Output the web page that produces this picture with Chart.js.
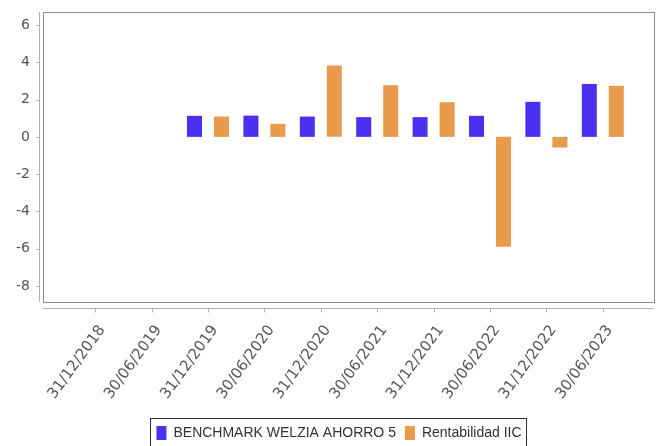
<!DOCTYPE html>
<html>
<head>
<meta charset="utf-8">
<script src="https://cdn.jsdelivr.net/npm/chart.js@4"></script>
<style>
  html, body { margin: 0; padding: 0; background: #fff; overflow: hidden; }
  #wrap { width: 658px; height: 450px; }
</style>
</head>
<body>
<div id="wrap"><canvas id="chart"></canvas></div>
<script>
const labels = ['31/12/2018', '30/06/2019', '31/12/2019', '30/06/2020', '31/12/2020',
  '30/06/2021', '31/12/2021', '30/06/2022', '31/12/2022', '30/06/2023'];
const benchmark = [null, null, 1.13, 1.14, 1.09, 1.06, 1.06, 1.13, 1.88, 2.84];
const rentabilidad = [null, null, 1.09, 0.70, 3.83, 2.77, 1.86, -5.90, -0.57, 2.74];
const yTicks = [-8, -6, -4, -2, 0, 2, 4, 6];

// plot frame, offset axis lines, tick marks and legend border (JFreeChart look)
const frame = {
  id: 'frame',
  afterDraw(chart) {
    const ctx = chart.ctx;
    const a = chart.chartArea;
    const x = chart.scales.x, y = chart.scales.y;
    const boxL = a.left - 24, boxR = a.right + 23;
    ctx.save();
    ctx.lineWidth = 1;
    ctx.strokeStyle = '#8c8c8c';
    ctx.strokeRect(boxL + 0.5, a.top + 0.5, boxR - boxL, a.bottom - a.top);

    ctx.strokeStyle = '#b0b0b0';
    ctx.beginPath();
    ctx.moveTo(boxL - 3.5, a.top);
    ctx.lineTo(boxL - 3.5, a.bottom);
    yTicks.forEach(v => {
      const py = Math.round(y.getPixelForValue(v)) + 0.5;
      ctx.moveTo(boxL - 7, py);
      ctx.lineTo(boxL - 3, py);
    });
    const ay = a.bottom + 6.5;
    ctx.moveTo(boxL, ay);
    ctx.lineTo(boxR, ay);
    labels.forEach((l, i) => {
      const px = Math.round(x.getPixelForValue(i)) + 0.5;
      ctx.moveTo(px, ay);
      ctx.lineTo(px, ay + 4);
    });
    ctx.stroke();

    const hb = chart.legend.legendHitBoxes;
    if (hb && hb.length) {
      const l = Math.min(...hb.map(h => h.left)) - 6;
      const r = Math.max(...hb.map(h => h.left + h.width)) + 5;
      const t = hb[0].top - 8;
      ctx.strokeStyle = '#333';
      ctx.strokeRect(Math.round(l) + 0.5, Math.round(t) + 0.5, Math.round(r - l), 40);
    }
    ctx.restore();
  }
};

new Chart(document.getElementById('chart'), {
  type: 'bar',
  data: {
    labels: labels,
    datasets: [{
      label: 'BENCHMARK WELZIA AHORRO 5',
      data: benchmark,
      backgroundColor: '#4a31f0',
      categoryPercentage: 0.957,
      barPercentage: 0.556
    }, {
      label: 'Rentabilidad IIC',
      data: rentabilidad,
      backgroundColor: '#e99a4b',
      categoryPercentage: 0.957,
      barPercentage: 0.556
    }]
  },
  plugins: [frame],
  options: {
    responsive: true,
    maintainAspectRatio: false,
    animation: false,
    // legend in the reference is centred a bit right of the canvas middle
    layout: { padding: { top: 12, right: -10, left: 10, bottom: 0 } },
    plugins: {
      tooltip: { enabled: false },
      legend: {
        position: 'bottom',
        labels: {
          font: { family: 'Liberation Sans', size: 14 },
          color: '#333',
          boxWidth: 10,
          boxHeight: 14,
          padding: 9
        }
      }
    },
    scales: {
      x: {
        offset: true,
        grid: { display: false },
        border: { display: false },
        ticks: {
          minRotation: 54,
          maxRotation: 54,
          padding: 12,
          labelOffset: 7,
          color: '#555',
          font: { family: 'DejaVu Sans', size: 15 }
        },
        afterFit(scale) { scale.height = 115; }
      },
      y: {
        min: -8.86,
        max: 6.7,
        grid: { display: false, drawTicks: true, tickLength: 34 },
        border: { display: false },
        afterBuildTicks(scale) { scale.ticks = yTicks.map(v => ({ value: v })); },
        ticks: {
          padding: 3,
          color: '#555',
          font: { family: 'DejaVu Sans', size: 14 }
        },
        afterFit(scale) { scale.width = 57; }
      },
      // empty spacer on the right so the plot ends where the reference does
      yR: {
        position: 'right',
        grid: { display: false },
        border: { display: false },
        ticks: { display: false },
        afterFit(scale) { scale.width = 37; }
      }
    }
  }
});
</script>
</body>
</html>
